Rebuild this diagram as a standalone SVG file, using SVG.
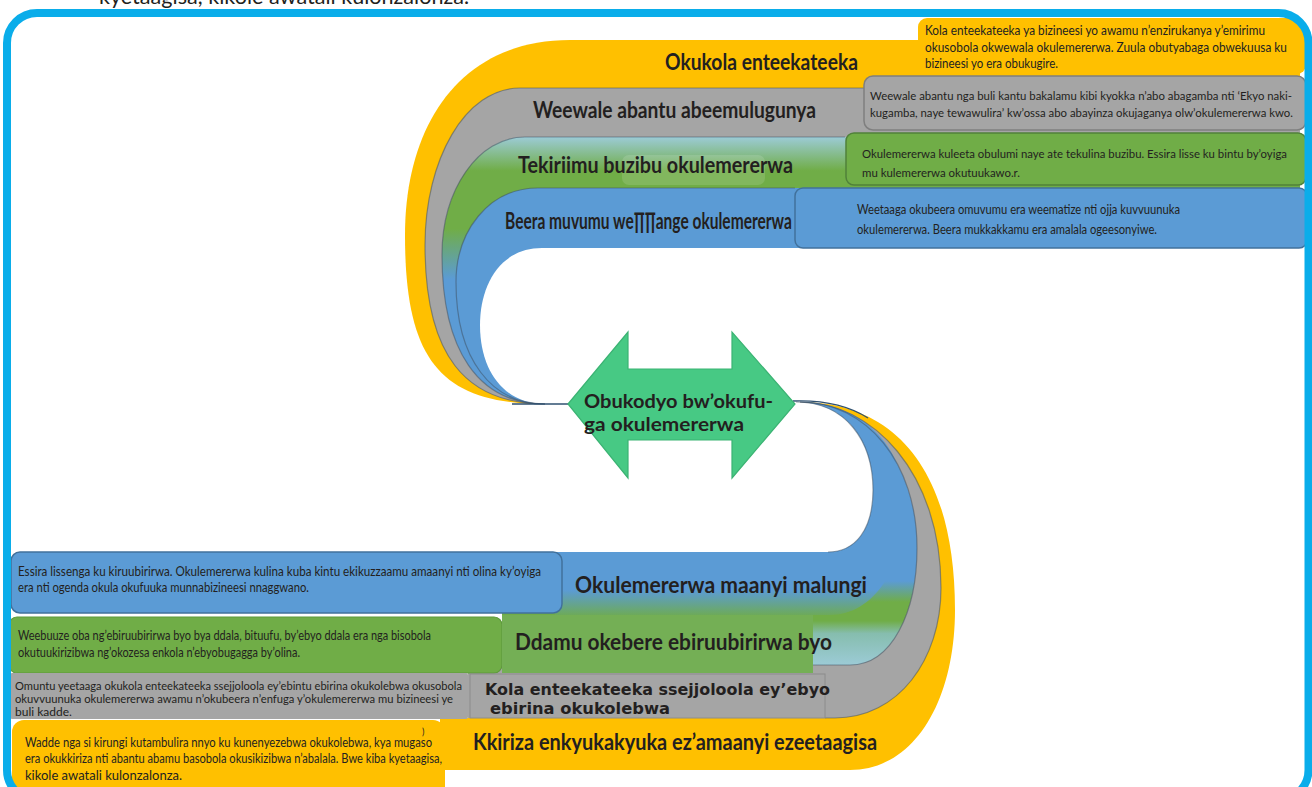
<svg xmlns="http://www.w3.org/2000/svg" width="1312" height="787" viewBox="0 0 1312 787">
<defs>
<style>
.t{font-family:Lato,"Liberation Sans",sans-serif;fill:#231F20}
.body{font-size:12.5px}
.ttl{font-size:23px;font-weight:700}
.wide{font-family:"DejaVu Sans","Liberation Sans",sans-serif;font-weight:700;font-size:15px;fill:#231F20}
.edge{fill:none;stroke:#3E4E5E;stroke-opacity:.5;stroke-width:1.2}
.yel{fill:#FFC000}
.gry{fill:#A5A5A5}
.grn{fill:#70AD47}
.blu{fill:#5B9BD5}
</style>
<linearGradient id="gUp" gradientUnits="userSpaceOnUse" x1="0" y1="137" x2="0" y2="290">
<stop offset="0" stop-color="#9CCBD6"/>
<stop offset="0.22" stop-color="#70AD47"/>
<stop offset="0.6" stop-color="#70AD47"/>
<stop offset="0.93" stop-color="#5B9BD5"/>
</linearGradient>
<linearGradient id="gLo" gradientUnits="userSpaceOnUse" x1="0" y1="665" x2="0" y2="560">
<stop offset="0" stop-color="#9CCBD6"/>
<stop offset="0.3" stop-color="#86BDAE"/>
<stop offset="0.42" stop-color="#70AD47"/>
<stop offset="0.6" stop-color="#70AD47"/>
<stop offset="0.8" stop-color="#5B9BD5"/>
</linearGradient>
<linearGradient id="bLo" gradientUnits="userSpaceOnUse" x1="0" y1="590" x2="0" y2="615">
<stop offset="0" stop-color="#5B9BD5"/>
<stop offset="1" stop-color="#6DAA5A"/>
</linearGradient>
</defs>
<rect width="1312" height="787" fill="#FFFFFF"/>
<text class="t" x="99" y="4" font-size="21" textLength="370" lengthAdjust="spacingAndGlyphs">kyetaagisa, kikole awatali kulonzalonza.</text>

<g id="bands">
<g id="bands-upper">
<path class="yel" d="M1300,40 H570 C460,40 405,125 405,235 C405,360 440,404 545,404 L1300,404 Z"/>
<path class="gry" d="M1300,88 H520 C465,88 425,160 425,245 C425,355 465,404 545,404 L1300,404 Z"/>
<path fill="url(#gUp)" d="M1300,137 H525 C478,137 442,190 442,255 C442,350 478,404 545,404 L1300,404 Z"/>
<path class="blu" d="M1300,188 H538 C488,188 456,232 456,282 C456,360 492,404 545,404 L1300,404 Z"/>
<path fill="#FFFFFF" d="M1310,248 H542 C500,248 480,285 480,325 C480,372 505,404 545,404 L1310,404 Z"/>
<path class="edge" d="M870,88 H520 C465,88 425,160 425,245 C425,355 465,404 545,404"/>
<path class="edge" d="M845,137 H525 C478,137 442,190 442,255 C442,350 478,404 545,404"/>
<path class="edge" d="M795,188 H538 C488,188 456,232 456,282 C456,360 492,404 545,404"/>
<rect x="622" y="155" width="143" height="30" rx="7" fill="#FFFFFF" fill-opacity="0.13"/>
</g>
<g id="bands-lower">
<path class="yel" d="M440,770 H850 C915,770 955,700 955,610 C955,470 895,402 800,402 L640,404 L640,718 L440,718 Z"/>
<path class="gry" d="M468,718 H835 C898,718 941,660 941,588 C941,472 872,402 800,402 L640,404 L640,665 L468,665 Z"/>
<path fill="url(#gLo)" d="M502,665 H850 C892,665 917,612 917,548 C917,462 866,402 800,402 L640,404 L640,613 L502,613 Z"/>
<path fill="url(#bLo)" d="M555,615 H830 C875,615 905,565 905,505 C905,445 860,402 800,402 L640,404 L640,552 L555,552 Z"/>
<path fill="#FFFFFF" d="M640,404 L796,402 C845,402 873,440 873,490 C873,530 855,552 828,552 L640,552 Z"/>
<path class="edge" d="M825,718 H835 C898,718 941,660 941,588 C941,472 872,402 800,402"/>
<path class="edge" d="M813,665 H850 C892,665 917,612 917,548 C917,462 866,402 800,402"/>
<path class="edge" d="M796,402 C845,402 873,440 873,490 C873,530 855,552 828,552"/>
</g>
</g>

<g id="node-okukola">
<rect x="918" y="18" width="388" height="56" rx="9" class="yel"/>
<text class="t ttl" x="665" y="70" textLength="193" lengthAdjust="spacingAndGlyphs">Okukola enteekateeka</text>
<text class="t body" x="925" y="35" textLength="340" lengthAdjust="spacingAndGlyphs">Kola enteekateeka ya bizineesi yo awamu n’enzirukanya y’emirimu</text>
<text class="t body" x="925" y="52" textLength="362" lengthAdjust="spacingAndGlyphs">okusobola okwewala okulemererwa. Zuula obutyabaga obwekuusa ku</text>
<text class="t body" x="925" y="68" textLength="133" lengthAdjust="spacingAndGlyphs">bizineesi yo era obukugire.</text>
</g>

<g id="node-weewale">
<rect x="864" y="76" width="442" height="54" rx="9" class="gry" stroke="#7F7F7F" stroke-width="1.5"/>
<text class="t ttl" x="533" y="118" font-size="24" textLength="283" lengthAdjust="spacingAndGlyphs">Weewale abantu abeemulugunya</text>
<text class="t" font-size="11.5" x="870" y="100" textLength="422" lengthAdjust="spacingAndGlyphs">Weewale abantu nga buli kantu bakalamu kibi kyokka n’abo abagamba nti ‘Ekyo naki-</text>
<text class="t" font-size="11.5" x="870" y="117" textLength="423" lengthAdjust="spacingAndGlyphs">kugamba, naye tewawulira’ kw’ossa abo abayinza okujaganya olw’okulemererwa kwo.</text>
</g>

<g id="node-tekiriimu">
<rect x="846" y="133" width="460" height="52" rx="8" class="grn" stroke="#50813A" stroke-width="1.5"/>
<text class="t ttl" x="518" y="173" font-size="24" textLength="275" lengthAdjust="spacingAndGlyphs">Tekiriimu buzibu okulemererwa</text>
<text class="t" font-size="11.5" x="862" y="158" textLength="425" lengthAdjust="spacingAndGlyphs">Okulemererwa kuleeta obulumi naye ate tekulina buzibu. Essira lisse ku bintu by’oyiga</text>
<text class="t" font-size="11.5" x="862" y="177" textLength="158" lengthAdjust="spacingAndGlyphs">mu kulemererwa okutuukawo.r.</text>
</g>

<g id="node-beera">
<rect x="795" y="188" width="512" height="60" rx="8" class="blu" stroke="#41719C" stroke-width="1.5"/>
<text class="t ttl" transform="translate(505,229) scale(0.652,1)" x="0" y="0" textLength="440" lengthAdjust="spacingAndGlyphs">Beera muvumu we∏∏ange okulemererwa</text>
<text class="t body" x="857" y="214" textLength="323" lengthAdjust="spacingAndGlyphs">Weetaaga okubeera omuvumu era weematize nti ojja kuvvuunuka</text>
<text class="t body" x="857" y="234" textLength="300" lengthAdjust="spacingAndGlyphs">okulemererwa. Beera mukkakkamu era amalala ogeesonyiwe.</text>
</g>

<g id="node-maanyi">
<rect x="11" y="552" width="551" height="61" rx="9" class="blu" stroke="#41719C" stroke-width="1.5"/>
<text class="t ttl" x="575" y="593" font-size="24" textLength="292" lengthAdjust="spacingAndGlyphs">Okulemererwa maanyi malungi</text>
<text class="t body" x="18" y="576" textLength="523" lengthAdjust="spacingAndGlyphs">Essira lissenga ku kiruubirirwa. Okulemererwa kulina kuba kintu ekikuzzaamu amaanyi nti olina ky’oyiga</text>
<text class="t body" x="18" y="592" textLength="291" lengthAdjust="spacingAndGlyphs">era nti ogenda okula okufuuka munnabizineesi nnaggwano.</text>
</g>

<g id="node-ddamu">
<rect x="9" y="617" width="493" height="56" rx="8" class="grn" stroke="#5E9A3C" stroke-width="1.2"/>
<rect x="502" y="615" width="311" height="58" fill="#74AF55"/>
<text class="t ttl" x="515" y="650" font-size="25" textLength="317" lengthAdjust="spacingAndGlyphs">Ddamu okebere ebiruubirirwa byo</text>
<text class="t body" x="18" y="640" textLength="413" lengthAdjust="spacingAndGlyphs">Weebuuze oba ng’ebiruubirirwa byo bya ddala, bituufu, by’ebyo ddala era nga bisobola</text>
<text class="t body" x="18" y="657" textLength="282" lengthAdjust="spacingAndGlyphs">okutuukirizibwa ng’okozesa enkola n’ebyobugagga by’olina.</text>
</g>

<g id="node-kola">
<rect x="10" y="673" width="458" height="46" rx="2" class="gry"/>
<rect x="470" y="674" width="355" height="44" class="gry" stroke="#8C8C8C" stroke-width="1"/>
<text class="wide" x="485" y="695" textLength="345" lengthAdjust="spacingAndGlyphs">Kola enteekateeka ssejjoloola ey’ebyo</text>
<text class="wide" x="490" y="714" textLength="180" lengthAdjust="spacingAndGlyphs">ebirina okukolebwa</text>
<text class="t" font-size="12" x="15" y="690" textLength="447" lengthAdjust="spacingAndGlyphs">Omuntu yeetaaga okukola enteekateeka ssejjoloola ey’ebintu ebirina okukolebwa okusobola</text>
<text class="t" font-size="12" x="15" y="703" textLength="438" lengthAdjust="spacingAndGlyphs">okuvvuunuka okulemererwa awamu n’okubeera n’enfuga y’okulemererwa mu bizineesi ye</text>
<text class="t" font-size="12" x="15" y="716">buli kadde.</text>
</g>

<g id="node-kkiriza">
<rect x="12" y="720" width="433" height="78" rx="12" class="yel"/>
<text class="t ttl" x="473" y="750" font-size="21" textLength="404" lengthAdjust="spacingAndGlyphs">Kkiriza enkyukakyuka ez’amaanyi ezeetaagisa</text>
<text class="t" font-size="13" x="25" y="747" textLength="407" lengthAdjust="spacingAndGlyphs">Wadde nga si kirungi kutambulira nnyo ku kunenyezebwa okukolebwa, kya mugaso</text>
<text class="t" font-size="9" x="422" y="735">)</text>
<text class="t" font-size="13" x="25" y="763" textLength="417" lengthAdjust="spacingAndGlyphs">era okukkiriza nti abantu abamu basobola okusikizibwa n’abalala. Bwe kiba kyetaagisa,</text>
<text class="t" font-size="13" x="25" y="780">kikole awatali kulonzalonza.</text>
</g>

<g id="connectors">
<path d="M512,404 H570" fill="none" stroke="#2F5070" stroke-width="1.3"/>
<path d="M793,401 C820,400 846,404 868,418" fill="none" stroke="#2F5070" stroke-width="1.3"/>
</g>

<g id="node-obukodyo">
<polygon points="568,404 628,332 628,369 732,369 732,332 795,404 732,478 732,440 628,440 628,478" fill="#47C984" stroke="#3BB373" stroke-width="1.2"/>
<text class="t" x="584" y="408" font-size="18" font-weight="700" textLength="189" lengthAdjust="spacingAndGlyphs">Obukodyo bw’okufu-</text>
<text class="t" x="584" y="431" font-size="18" font-weight="700" textLength="160" lengthAdjust="spacingAndGlyphs">ga okulemererwa</text>
</g>

<rect id="frame" x="7" y="13" width="1301.5" height="787" rx="30" fill="none" stroke="#0AADEA" stroke-width="8"/>
</svg>
